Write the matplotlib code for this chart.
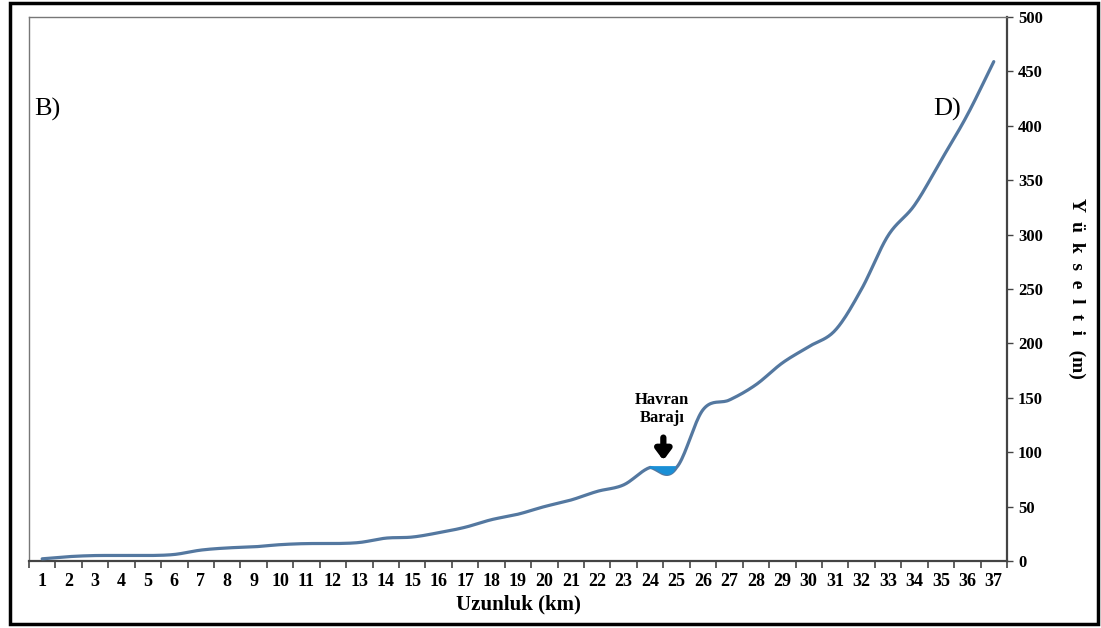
import numpy as np
import matplotlib.pyplot as plt
from matplotlib.patches import Rectangle

# Elevation profile along the valley (km -> m)
km = list(range(1, 38))
elev = [2, 4, 5, 5, 5, 6, 10, 12, 13, 15, 16, 16, 17, 21, 22, 26, 31, 38, 43,
        50, 56, 64, 70, 86, 86, 139, 148, 162, 182, 197, 212, 250, 299, 327,
        368, 410, 459]
y_ticks = [0, 50, 100, 150, 200, 250, 300, 350, 400, 450, 500]
# reservoir stretch and water level
dam_km = [24, 25]
dam_level = 86


def smooth(xs, ys, n=20):
    # Catmull-Rom curve through the points, like a smoothed line in a spreadsheet
    xs = np.asarray(xs, float)
    ys = np.asarray(ys, float)
    px = np.concatenate([[2 * xs[0] - xs[1]], xs, [2 * xs[-1] - xs[-2]]])
    py = np.concatenate([[2 * ys[0] - ys[1]], ys, [2 * ys[-1] - ys[-2]]])
    outx, outy = [], []
    t = np.linspace(0, 1, n, endpoint=False)
    for i in range(1, len(px) - 2):
        for p, out in ((px, outx), (py, outy)):
            p0, p1, p2, p3 = p[i - 1], p[i], p[i + 1], p[i + 2]
            out.extend(0.5 * ((2 * p1) + (-p0 + p2) * t
                              + (2 * p0 - 5 * p1 + 4 * p2 - p3) * t ** 2
                              + (-p0 + 3 * p1 - 3 * p2 + p3) * t ** 3))
    outx.append(xs[-1])
    outy.append(ys[-1])
    return np.array(outx), np.array(outy)


plt.rcParams['font.family'] = ['Liberation Serif', 'DejaVu Serif']

fig = plt.figure(figsize=(11.01, 6.28), dpi=100)
ax = fig.add_axes([0.0263, 0.1067, 0.8883, 0.8662])

sx, sy = smooth(km, elev)
# small dip where the reservoir sits
dip = (sx > dam_km[0]) & (sx < dam_km[1])
sy = sy.copy()
sy[dip] -= 3.5 * np.sin(np.pi * (sx[dip] - dam_km[0]))
ax.plot(sx, sy, color='#5478a0', lw=2.3, solid_capstyle='round', zorder=3)

m = (sx >= dam_km[0] + 0.05) & (sx <= dam_km[1] - 0.1)
ax.fill_between(sx[m], sy[m], dam_level, color='#1a8fd6', zorder=4, lw=0)
ax.plot([dam_km[0] + 0.05, dam_km[1] - 0.1], [dam_level, dam_level],
        color='#1a8fd6', lw=2, zorder=4)

ax.annotate('', xy=(24.5, 90), xytext=(24.5, 116),
            arrowprops=dict(arrowstyle='-|>,head_width=0.45,head_length=0.6',
                            color='black', lw=4.5))
ax.text(24.45, 140, 'Havran\nBarajı', ha='center', va='center',
        fontsize=12, fontweight='bold', linespacing=1.15)

ax.text(0.7, 415, 'B)', fontsize=19, va='center')
ax.text(34.7, 415, 'D)', fontsize=19, va='center')

ax.set_xlim(0.5, 37.5)
ax.set_ylim(0, 500)
ax.set_xticks(km)
ax.set_xticklabels([str(k) for k in km], fontsize=13, fontweight='bold')
ax.set_xticks(np.arange(0.5, 38, 1), minor=True)
ax.tick_params(axis='x', which='major', length=0, pad=9)
ax.tick_params(axis='x', which='minor', length=5, width=1.2, color='#444444',
               direction='out')

ax.yaxis.tick_right()
ax.set_yticks(y_ticks)
ax.set_yticklabels([str(v) for v in y_ticks], fontsize=12, fontweight='bold')
ax.tick_params(axis='y', length=4, width=1, color='#444444', pad=4)

for side in ['left', 'top']:
    ax.spines[side].set_color('#777777')
    ax.spines[side].set_linewidth(1)
ax.spines['bottom'].set_color('#444444')
ax.spines['bottom'].set_linewidth(1.6)
ax.spines['right'].set_color('#444444')
ax.spines['right'].set_linewidth(1.6)

ax.set_xlabel('Uzunluk (km)', fontsize=15, fontweight='bold', labelpad=3)
fig.text(0.978, 0.541, 'Y  ü  k  s  e  l  t  i   (m)', rotation=-90,
         fontsize=14, fontweight='bold', ha='center', va='center')

# outer frame
fig.patches.append(Rectangle((0.0095, 0.006), 0.988, 0.989,
                             transform=fig.transFigure, fill=False,
                             edgecolor='black', lw=2.5))

fig.savefig('out.png', dpi=100)
